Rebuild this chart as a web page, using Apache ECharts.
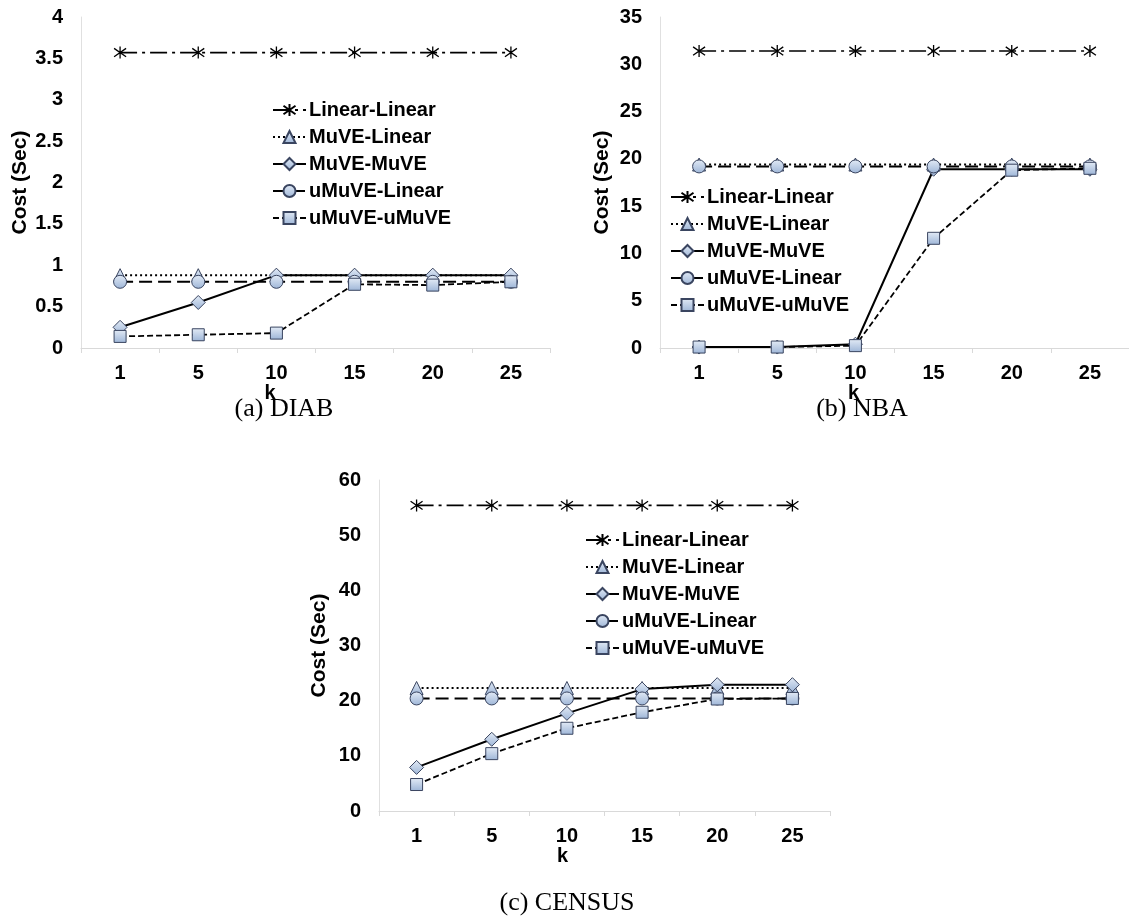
<!DOCTYPE html>
<html>
<head>
<meta charset="utf-8">
<script src="https://cdn.jsdelivr.net/npm/echarts/dist/echarts.min.js"></script>
<style>
  html, body { margin: 0; padding: 0; background: #fff; }
  #chart { width: 1129px; height: 923px; }
</style>
</head>
<body>
<div id="chart"></div>
<script>
var kValues = ['1', '5', '10', '15', '20', '25'];
var seriesNames = ['Linear-Linear', 'MuVE-Linear', 'MuVE-MuVE', 'uMuVE-Linear', 'uMuVE-uMuVE'];

// (a) DIAB
var diabLinearLinear = [3.57, 3.57, 3.57, 3.57, 3.57, 3.57];
var diabMuveLinear = [0.88, 0.88, 0.88, 0.88, 0.88, 0.88];
var diabMuveMuve = [0.25, 0.55, 0.88, 0.88, 0.88, 0.88];
var diabUmuveLinear = [0.80, 0.80, 0.80, 0.80, 0.80, 0.80];
var diabUmuveUmuve = [0.14, 0.16, 0.18, 0.77, 0.76, 0.80];
var diabTicks = { max: 4, interval: 0.5 };

// (b) NBA
var nbaLinearLinear = [31.4, 31.4, 31.4, 31.4, 31.4, 31.4];
var nbaMuveLinear = [19.4, 19.4, 19.4, 19.4, 19.4, 19.4];
var nbaMuveMuve = [0.1, 0.1, 0.4, 18.9, 18.9, 18.9];
var nbaUmuveLinear = [19.2, 19.2, 19.2, 19.2, 19.2, 19.2];
var nbaUmuveUmuve = [0.1, 0.1, 0.25, 11.6, 18.8, 19.0];
var nbaTicks = { max: 35, interval: 5 };

// (c) CENSUS
var censusLinearLinear = [55.4, 55.4, 55.4, 55.4, 55.4, 55.4];
var censusMuveLinear = [22.3, 22.3, 22.3, 22.3, 22.3, 22.3];
var censusMuveMuve = [7.9, 13.0, 17.7, 22.1, 22.9, 22.9];
var censusUmuveLinear = [20.4, 20.4, 20.4, 20.4, 20.4, 20.4];
var censusUmuveUmuve = [4.8, 10.4, 15.0, 17.9, 20.3, 20.4];
var censusTicks = { max: 60, interval: 10 };

var SANS = '"Liberation Sans", Arial, sans-serif';
var SERIF = '"Liberation Serif", "Times New Roman", serif';

var markerFill = new echarts.graphic.LinearGradient(0, 0, 0, 1, [
  { offset: 0, color: '#e3ebf6' },
  { offset: 1, color: '#9db5d7' }
]);

// line / marker look per series, same in all three panels
var looks = {
  'Linear-Linear': { dash: [17, 5, 3, 5], width: 1.6, symbol: 'path://M5,0L5,10M0,1.5L10,8.5M0,8.5L10,1.5', size: 12, star: true },
  'MuVE-Linear': { dash: [2, 3], width: 2, symbol: 'triangle', size: 13 },
  'MuVE-MuVE': { dash: 'solid', width: 2, symbol: 'diamond', size: 14 },
  'uMuVE-Linear': { dash: [13, 6], width: 2, symbol: 'circle', size: 13 },
  'uMuVE-uMuVE': { dash: [6, 3], width: 1.8, symbol: 'rect', size: 12 }
};

function makeSeries(name, data, idx) {
  var l = looks[name];
  return {
    name: name,
    type: 'line',
    xAxisIndex: idx,
    yAxisIndex: idx,
    data: data,
    symbol: l.symbol,
    symbolSize: l.size,
    symbolKeepAspect: true,
    showAllSymbol: true,
    animation: false,
    lineStyle: { color: '#000', width: l.width, type: l.dash },
    itemStyle: l.star
      ? { color: '#000', borderColor: '#000', borderWidth: 1.3 }
      : { color: markerFill, borderColor: '#3a4560', borderWidth: 1 }
  };
}

var panels = [
  { data: [diabLinearLinear, diabMuveLinear, diabMuveMuve, diabUmuveLinear, diabUmuveUmuve], ticks: diabTicks,
    grid: { left: 81, top: 17, width: 469, height: 331 }, yGap: 50, kGap: 31, kShift: 91,
    legend: { left: 272, top: 100 }, caption: { text: '(a) DIAB', x: 284, y: 409 } },
  { data: [nbaLinearLinear, nbaMuveLinear, nbaMuveMuve, nbaUmuveLinear, nbaUmuveUmuve], ticks: nbaTicks,
    grid: { left: 660, top: 17, width: 474, height: 331 }, yGap: 47, kGap: 30, kShift: 82,
    legend: { left: 670, top: 187 }, caption: { text: '(b) NBA', x: 862, y: 409 } },
  { data: [censusLinearLinear, censusMuveLinear, censusMuveMuve, censusUmuveLinear, censusUmuveUmuve], ticks: censusTicks,
    grid: { left: 379, top: 480, width: 451, height: 331 }, yGap: 49, kGap: 31, kShift: 84,
    legend: { left: 585, top: 530 }, caption: { text: '(c) CENSUS', x: 567, y: 903 } }
];

var option = {
  backgroundColor: '#fff',
  animation: false,
  grid: [], xAxis: [], yAxis: [], legend: [], series: [], graphic: []
};

panels.forEach(function (p, i) {
  option.grid.push(p.grid);
  option.xAxis.push({
    type: 'category',
    gridIndex: i,
    data: kValues,
    boundaryGap: true,
    name: 'k',
    nameLocation: 'middle',
    nameGap: p.kGap,
    nameTextStyle: { color: '#000', fontFamily: SANS, fontWeight: 'bold', fontSize: 20, padding: [0, p.kShift, 0, 0] },
    axisLine: { lineStyle: { color: '#d9d9d9', width: 1 } },
    axisTick: { show: true, length: 5, lineStyle: { color: '#d9d9d9' } },
    axisLabel: { color: '#000', fontFamily: SANS, fontWeight: 'bold', fontSize: 20, margin: 15 },
    splitLine: { show: false }
  });
  option.yAxis.push({
    type: 'value',
    gridIndex: i,
    min: 0,
    max: p.ticks.max,
    interval: p.ticks.interval,
    name: 'Cost (Sec)',
    nameLocation: 'middle',
    nameGap: p.yGap,
    nameTextStyle: { color: '#000', fontFamily: SANS, fontWeight: 'bold', fontSize: 21 },
    axisLine: { show: true, lineStyle: { color: '#e0e0e0', width: 1 } },
    axisTick: { show: false },
    axisLabel: { color: '#000', fontFamily: SANS, fontWeight: 'bold', fontSize: 20, margin: 18 },
    splitLine: { show: false }
  });
  option.legend.push({
    orient: 'vertical',
    left: p.legend.left,
    top: p.legend.top,
    padding: 0,
    itemWidth: 33,
    itemHeight: 15,
    itemGap: 7,
    data: seriesNames,
    selectedMode: false,
    textStyle: { color: '#000', fontFamily: SANS, fontWeight: 'bold', fontSize: 20, padding: [0, 0, 0, -2] }
  });
  seriesNames.forEach(function (name, j) {
    option.series.push(makeSeries(name, p.data[j], i));
  });
  option.graphic.push({
    type: 'text',
    x: p.caption.x,
    y: p.caption.y,
    style: { text: p.caption.text, fill: '#000', font: '26px ' + SERIF, textAlign: 'center', textVerticalAlign: 'middle' }
  });
});

var myChart = echarts.init(document.getElementById('chart'), null, { renderer: 'canvas' });
myChart.setOption(option);
</script>
</body>
</html>
